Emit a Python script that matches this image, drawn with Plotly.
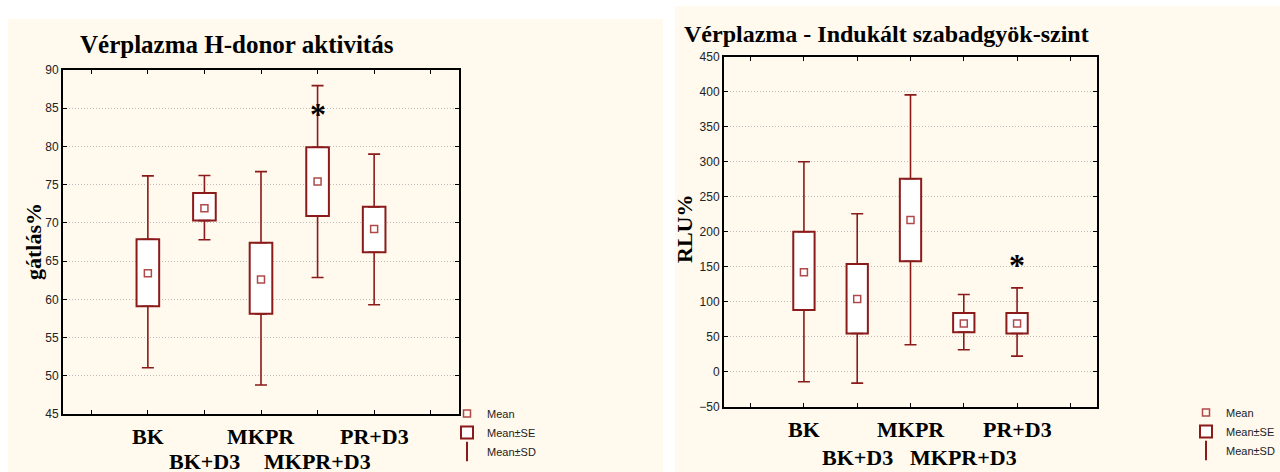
import plotly.graph_objects as go
from plotly.subplots import make_subplots

# ---- data ----
categories = ["BK", "BK+D3", "MKPR", "MKPR+D3", "PR+D3"]
cat_pos = [1, 2, 3, 4, 5]

# Vérplazma H-donor aktivitás (gátlás%)
h_mean = [63.4, 71.9, 62.6, 75.4, 69.2]
h_se_lo = [59.1, 70.3, 58.1, 70.9, 66.15]
h_se_hi = [67.85, 73.9, 67.4, 79.9, 72.1]
h_sd_lo = [51.05, 67.8, 48.8, 62.85, 59.3]
h_sd_hi = [76.15, 76.2, 76.7, 87.95, 79.0]
h_star_cat = [4]
h_star_y = [84.8]

# Vérplazma - Indukált szabadgyök-szint (RLU%)
r_mean = [142, 104, 216.7, 68.8, 68.8]
r_se_lo = [88, 54.6, 157.7, 56.5, 54.6]
r_se_hi = [200, 154, 275.6, 84, 84]
r_sd_lo = [-14.3, -16.3, 38.5, 31.4, 22.3]
r_sd_hi = [300, 225.7, 395.4, 110.2, 119.7]
r_star_cat = [5]
r_star_y = [157.7]

DARKRED = "#8b1a1a"
MEANRED = "#b04a4a"
CREAM = "#fff9ee"
W, H = 1280, 472

fig = make_subplots(rows=1, cols=2)


def add_panel(col, mean, se_lo, se_hi, sd_lo, sd_hi, legend):
    # SE box
    fig.add_trace(go.Bar(
        x=cat_pos, y=[h - l for h, l in zip(se_hi, se_lo)], base=se_lo,
        width=0.4, name="Mean±SE", legend=legend, legendrank=2,
        marker=dict(color="white", line=dict(color=DARKRED, width=2)),
    ), row=1, col=col)
    # SD whiskers, upper and lower part drawn from the box edges
    fig.add_trace(go.Scatter(
        x=cat_pos, y=se_hi, mode="markers", marker=dict(size=0.1, opacity=0),
        error_y=dict(type="data", array=[s - h for s, h in zip(sd_hi, se_hi)],
                     arrayminus=[0] * len(se_hi), color=DARKRED, thickness=1.6, width=6),
        showlegend=False, legend=legend,
    ), row=1, col=col)
    fig.add_trace(go.Scatter(
        x=cat_pos, y=se_lo, mode="markers", marker=dict(size=0.1, opacity=0),
        error_y=dict(type="data", array=[0] * len(se_lo),
                     arrayminus=[l - s for l, s in zip(se_lo, sd_lo)], color=DARKRED, thickness=1.6, width=6),
        showlegend=False, legend=legend,
    ), row=1, col=col)
    # mean
    fig.add_trace(go.Scatter(
        x=cat_pos, y=mean, mode="markers", name="Mean", legend=legend, legendrank=1,
        marker=dict(symbol="square-open", size=7, color=MEANRED, line=dict(width=1.5)),
    ), row=1, col=col)
    # legend only entry for the SD whisker
    fig.add_trace(go.Scatter(
        x=[None], y=[None], mode="markers", name="Mean±SD", legend=legend, legendrank=3,
        marker=dict(symbol="line-ns-open", size=14, color=DARKRED, line=dict(width=2, color=DARKRED)),
    ), row=1, col=col)


add_panel(1, h_mean, h_se_lo, h_se_hi, h_sd_lo, h_sd_hi, "legend")
add_panel(2, r_mean, r_se_lo, r_se_hi, r_sd_lo, r_sd_hi, "legend2")

tickfont = dict(family="Liberation Sans, Arial", size=12, color="#222")
xcommon = dict(range=[-0.5, 6.5], tickvals=[0, 1, 2, 3, 4, 5, 6], ticktext=[""] * 7,
               ticks="inside", ticklen=4, tickcolor="black", showgrid=False, automargin=False,
               showline=True, linecolor="black", linewidth=2, mirror="ticks", zeroline=False)
ycommon = dict(ticks="inside", ticklen=4, tickcolor="black", showline=True, linecolor="black",
               linewidth=2, mirror="ticks", zeroline=False, gridcolor="#bdbdbd", griddash="1px,2px",
               gridwidth=1, tickfont=tickfont, automargin=False)

fig.update_xaxes(xcommon)
fig.update_yaxes(ycommon)
fig.update_layout(
    xaxis=dict(domain=[63 / W, 459 / W]),
    xaxis2=dict(domain=[724 / W, 1097 / W]),
    yaxis=dict(domain=[1 - 414 / H, 1 - 70 / H], range=[45, 90], dtick=5),
    yaxis2=dict(domain=[1 - 406.7 / H, 1 - 56.7 / H], range=[-50, 450], dtick=50),
)

# cream panels
shapes = [
    dict(type="rect", xref="paper", yref="paper", x0=8 / W, x1=663 / W, y0=0, y1=1 - 19 / H,
         fillcolor=CREAM, line=dict(width=0), layer="below"),
    dict(type="rect", xref="paper", yref="paper", x0=675 / W, x1=1, y0=0, y1=1 - 6 / H,
         fillcolor=CREAM, line=dict(width=0), layer="below"),
]

times = "Liberation Serif, Times New Roman, serif"
ann = []
# titles
ann.append(dict(text="<b>Vérplazma H-donor aktivitás</b>", xref="paper", yref="paper",
                x=237 / W, y=1 - 45 / H, xanchor="center", yanchor="middle", showarrow=False,
                font=dict(family=times, size=25, color="black")))
ann.append(dict(text="<b>Vérplazma - Indukált szabadgyök-szint</b>", xref="paper", yref="paper",
                x=886 / W, y=1 - 34 / H, xanchor="center", yanchor="middle", showarrow=False,
                font=dict(family=times, size=24, color="black")))
# y titles
ann.append(dict(text="<b>gátlás%</b>", xref="paper", yref="paper", x=34 / W, y=1 - 242 / H,
                xanchor="center", yanchor="middle", textangle=-90, showarrow=False,
                font=dict(family=times, size=22, color="black")))
ann.append(dict(text="<b>RLU%</b>", xref="paper", yref="paper", x=685 / W, y=1 - 229 / H,
                xanchor="center", yanchor="middle", textangle=-90, showarrow=False,
                font=dict(family=times, size=22, color="black")))
# staggered category labels
for xr, rows in (("x", (435.7, 461)), ("x2", (429, 456.7))):
    for i, (c, p) in enumerate(zip(categories, cat_pos)):
        yy = rows[i % 2]
        ann.append(dict(text="<b>%s</b>" % c, xref=xr, yref="paper", x=p, y=1 - yy / H,
                        xanchor="center", yanchor="middle", showarrow=False, height=20,
                        font=dict(family=times, size=22, color="black")))
# significance stars
for xr, yr, cats, ys in (("x", "y", h_star_cat, h_star_y), ("x2", "y2", r_star_cat, r_star_y)):
    for c, v in zip(cats, ys):
        ann.append(dict(text="<b>*</b>", xref=xr, yref=yr, x=c, y=v, yshift=-4,
                        xanchor="center", yanchor="middle", showarrow=False,
                        font=dict(family=times, size=32, color="black")))

legfont = dict(family="Liberation Sans, Arial", size=11, color="#222")
fig.update_layout(
    width=W, height=H,
    margin=dict(l=0, r=0, t=0, b=0, autoexpand=False),
    paper_bgcolor="white", plot_bgcolor="white",
    shapes=shapes, annotations=ann,
    barmode="overlay",
    legend=dict(x=447 / W, y=1 - 399 / H, xanchor="left", yanchor="top", bgcolor="rgba(0,0,0,0)",
                font=legfont, tracegroupgap=0, itemwidth=30),
    legend2=dict(x=1.0, y=1 - 398 / H, xanchor="right", yanchor="top", bgcolor="rgba(0,0,0,0)",
                 font=legfont, tracegroupgap=0, itemwidth=30),
)

# the page body has a default 8px margin; drop it so the figure sits at 0,0
fig.write_html("out.html", config={"displayModeBar": False},
               post_script="document.body.style.margin='0';")
